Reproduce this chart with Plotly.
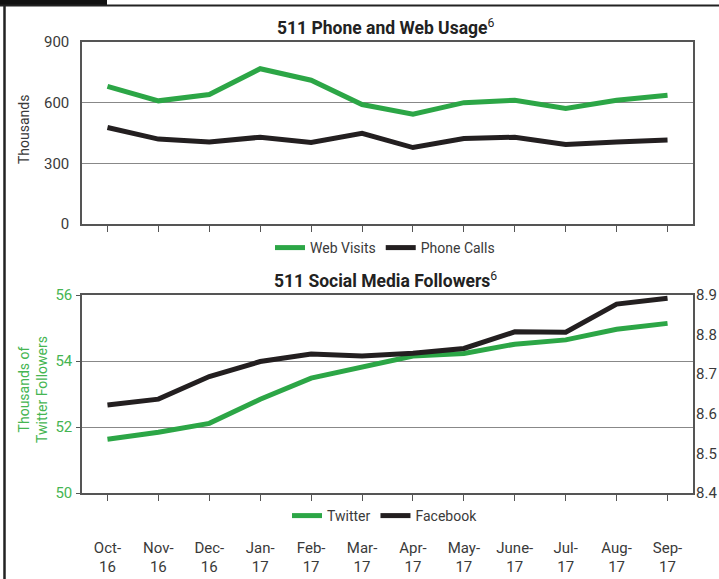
import plotly.graph_objects as go

# ---- data ----
months = ["Oct-16", "Nov-16", "Dec-16", "Jan-17", "Feb-17", "Mar-17",
          "Apr-17", "May-17", "Jun-17", "Jul-17", "Aug-17", "Sep-17"]
month_labels = ["Oct-<br>16", "Nov-<br>16", "Dec-<br>16", "Jan-<br>17", "Feb-<br>17",
                "Mar-<br>17", "Apr-<br>17", "May-<br>17", "June-<br>17", "Jul-<br>17",
                "Aug-<br>17", "Sep-<br>17"]
web_visits = [681, 609, 640, 768, 711, 591, 543, 600, 612, 571, 612, 637]
phone_calls = [477, 420, 406, 429, 403, 448, 378, 423, 429, 393, 405, 415]
twitter = [51.63, 51.84, 52.11, 52.84, 53.48, 53.83, 54.15, 54.23, 54.51, 54.64, 54.96, 55.14]
facebook = [8.622, 8.637, 8.694, 8.732, 8.751, 8.746, 8.753, 8.765, 8.807, 8.806, 8.877, 8.892]
usage_ticks = [0, 300, 600, 900]
twitter_ticks = [50, 52, 54, 56]
facebook_ticks = [8.4, 8.5, 8.6, 8.7, 8.8, 8.9]

GREEN = "#2ca646"
BLACK = "#231f20"
LABEL_GREEN = "#45b552"
TXT = "#3a3a3a"
FONT = "Roboto, Lato, sans-serif"
W, H = 719, 579

fig = go.Figure()
fig.add_trace(go.Scatter(x=months, y=web_visits, name="Web Visits", mode="lines",
                         line=dict(color=GREEN, width=5), xaxis="x", yaxis="y",
                         legend="legend"))
fig.add_trace(go.Scatter(x=months, y=phone_calls, name="Phone Calls", mode="lines",
                         line=dict(color=BLACK, width=5), xaxis="x", yaxis="y",
                         legend="legend"))
fig.add_trace(go.Scatter(x=months, y=twitter, name="Twitter", mode="lines",
                         line=dict(color=GREEN, width=5), xaxis="x2", yaxis="y3",
                         legend="legend2"))
fig.add_trace(go.Scatter(x=months, y=facebook, name="Facebook", mode="lines",
                         line=dict(color=BLACK, width=5), xaxis="x2", yaxis="y4",
                         legend="legend2"))

xdom = [82 / W, 693 / W]
top_dom = [1 - 224 / H, 1 - 42 / H]
bot_dom = [1 - 493 / H, 1 - 295 / H]
LINE = "#555555"
GRID = "#888888"

common_x = dict(type="category", categoryorder="array", categoryarray=months,
                range=[-0.5, 11.5], showline=True, linecolor=LINE, linewidth=1.5,
                mirror=True, ticks="outside", ticklen=6, tickcolor=LINE, tickwidth=1,
                showgrid=False, zeroline=False, automargin=False, fixedrange=True)

fig.update_layout(
    width=W, height=H,
    margin=dict(l=0, r=0, t=0, b=0),
    paper_bgcolor="white", plot_bgcolor="white",
    font=dict(family=FONT, size=14, color=TXT),
    showlegend=True,
    xaxis=dict(common_x, domain=xdom, anchor="y", showticklabels=False),
    yaxis=dict(domain=top_dom, anchor="x", range=[0, 900], tickvals=usage_ticks,
               showline=True, linecolor=LINE, linewidth=1.5, mirror=True,
               showgrid=True, gridcolor=GRID, gridwidth=1, zeroline=False,
               ticks="", ticklabelstandoff=8, automargin=False,
               tickfont=dict(size=15, color=TXT)),
    xaxis2=dict(common_x, domain=xdom, anchor="y3", tickvals=months,
                ticktext=month_labels, ticklabelstandoff=34,
                tickfont=dict(size=15, color=TXT)),
    yaxis3=dict(domain=bot_dom, anchor="x2", range=[50, 56], tickvals=twitter_ticks,
                showline=True, linecolor=LINE, linewidth=1.5, mirror=True,
                showgrid=True, gridcolor=GRID, gridwidth=1, zeroline=False,
                ticks="outside", ticklen=4, tickcolor=LINE, ticklabelstandoff=1,
                automargin=False, tickfont=dict(size=15, color=LABEL_GREEN)),
    yaxis4=dict(overlaying="y3", anchor="x2", side="right", range=[8.4, 8.9],
                tickvals=facebook_ticks, tickformat=".1f", showgrid=False,
                showline=False, zeroline=False, ticks="", ticklabelstandoff=2,
                automargin=False, tickfont=dict(size=15, color=TXT)),
    legend=dict(orientation="h", x=385 / W, xanchor="center", y=1 - 248 / H,
                yanchor="middle", font=dict(size=14, color=TXT), bgcolor="rgba(0,0,0,0)",
                itemwidth=30, traceorder="normal"),
    legend2=dict(orientation="h", x=385 / W, xanchor="center", y=1 - 516 / H,
                 yanchor="middle", font=dict(size=14, color=TXT), bgcolor="rgba(0,0,0,0)",
                 itemwidth=30, traceorder="normal"),
)

fig.add_annotation(text="<b>511 Phone and Web Usage</b><sup>6</sup>", x=385 / W, y=1 - 27 / H,
                   xref="paper", yref="paper", showarrow=False,
                   font=dict(size=17.5, color="#222222"), xanchor="center", yanchor="middle")
fig.add_annotation(text="<b>511 Social Media Followers</b><sup>6</sup>", x=385 / W, y=1 - 280 / H,
                   xref="paper", yref="paper", showarrow=False,
                   font=dict(size=17.5, color="#222222"), xanchor="center", yanchor="middle")
fig.add_annotation(text="Thousands", x=24 / W, y=1 - 130 / H, xref="paper", yref="paper",
                   showarrow=False, textangle=-90, font=dict(size=14, color=TXT),
                   xanchor="center", yanchor="middle")
fig.add_annotation(text="Thousands of<br>Twitter Followers", x=33 / W, y=1 - 390 / H,
                   xref="paper", yref="paper", showarrow=False, textangle=-90,
                   font=dict(size=14, color=LABEL_GREEN), xanchor="center", yanchor="middle")

# page frame decoration
fig.add_shape(type="rect", xref="paper", yref="paper", x0=0, x1=107 / W, y0=1 - 6 / H, y1=1,
              fillcolor="#111111", line=dict(width=0), layer="above")
fig.add_shape(type="line", xref="paper", yref="paper", x0=0, x1=1, y0=1 - 5.5 / H, y1=1 - 5.5 / H,
              line=dict(color="#222222", width=2))
fig.add_shape(type="line", xref="paper", yref="paper", x0=4.5 / W, x1=4.5 / W, y0=0, y1=1 - 5 / H,
              line=dict(color="#222222", width=2.5))

fig.write_html("out.html", config={"displayModeBar": False},
               post_script="document.body.style.margin='0';document.body.style.padding='0';")
